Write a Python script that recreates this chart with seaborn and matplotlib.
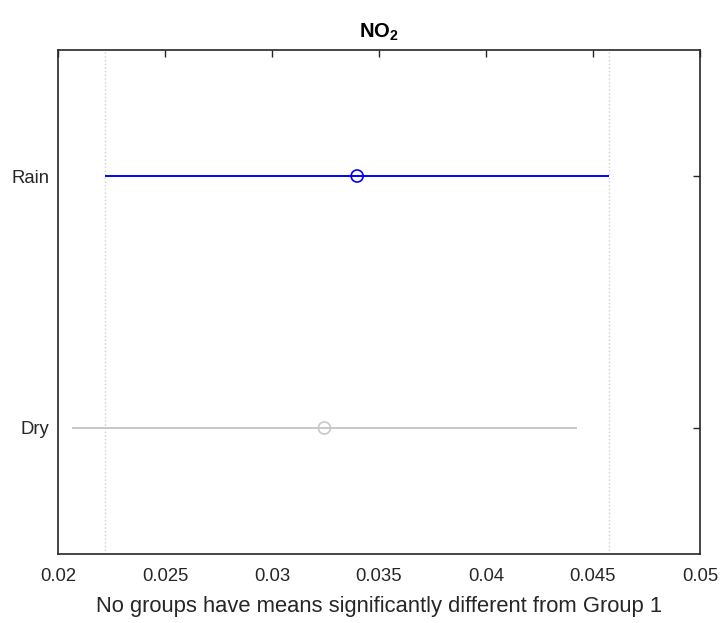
import numpy as np
import pandas as pd
import matplotlib
matplotlib.use('Agg')
import matplotlib.pyplot as plt
import seaborn as sns

groups = ['Dry', 'Rain']
means = [0.03245, 0.03398]
lower = [0.02065, 0.02220]
upper = [0.04425, 0.04575]
colors = ['#c8c8c8', '#0000ff']

sns.set_style('white')
plt.rcParams['font.family'] = ['Liberation Sans', 'DejaVu Sans']
plt.rcParams['mathtext.fontset'] = 'custom'
plt.rcParams['mathtext.bf'] = 'Liberation Sans:bold'
plt.rcParams['mathtext.rm'] = 'Liberation Sans'

df = pd.DataFrame({'group': groups, 'mean': means, 'lo': lower, 'hi': upper})
df['y'] = np.arange(1, len(groups) + 1)

fig = plt.figure(figsize=(7.22, 6.23), dpi=100)
ax = fig.add_axes([0.0803, 0.1108, 0.8892, 0.8089])

# dotted lines at the bounds of the selected group (Rain)
ref = df.iloc[-1]
for v in (ref['lo'], ref['hi']):
    ax.axvline(v, color='#d0d0d0', ls=':', lw=1.0, zorder=0)

for i, row in df.iterrows():
    ax.hlines(row['y'], row['lo'], row['hi'], color=colors[i], lw=1.4)

sns.scatterplot(data=df, x='mean', y='y', hue='group', palette=colors,
                marker='o', s=75, legend=False, ax=ax, zorder=3)
# open markers
coll = ax.collections[-1]
coll.set_facecolor('none')
coll.set_edgecolor(colors)
coll.set_linewidth(1.2)

ax.set_xlim(0.02, 0.05)
ax.set_ylim(0.5, len(groups) + 0.5)
ax.set_xticks([0.02, 0.025, 0.03, 0.035, 0.04, 0.045, 0.05])
ax.set_xticklabels(['0.02', '0.025', '0.03', '0.035', '0.04', '0.045', '0.05'])
ax.set_yticks(df['y'])
ax.set_yticklabels(groups)
ax.tick_params(direction='in', length=5, width=1, colors='#262626',
               labelsize=13.3, top=True, right=True, labelcolor='#262626')
ax.tick_params(axis='x', pad=10)
ax.tick_params(axis='y', pad=6)
for s in ax.spines.values():
    s.set_color('#262626')
    s.set_linewidth(1.2)

ax.set_xlabel('No groups have means significantly different from Group 1',
              fontsize=15.8, color='#262626', labelpad=8)
ax.set_ylabel('')
ax.set_title(r'$\mathbf{NO_2}$', fontsize=14.5, color='#000000', pad=9)

fig.savefig('out.png', dpi=100)
